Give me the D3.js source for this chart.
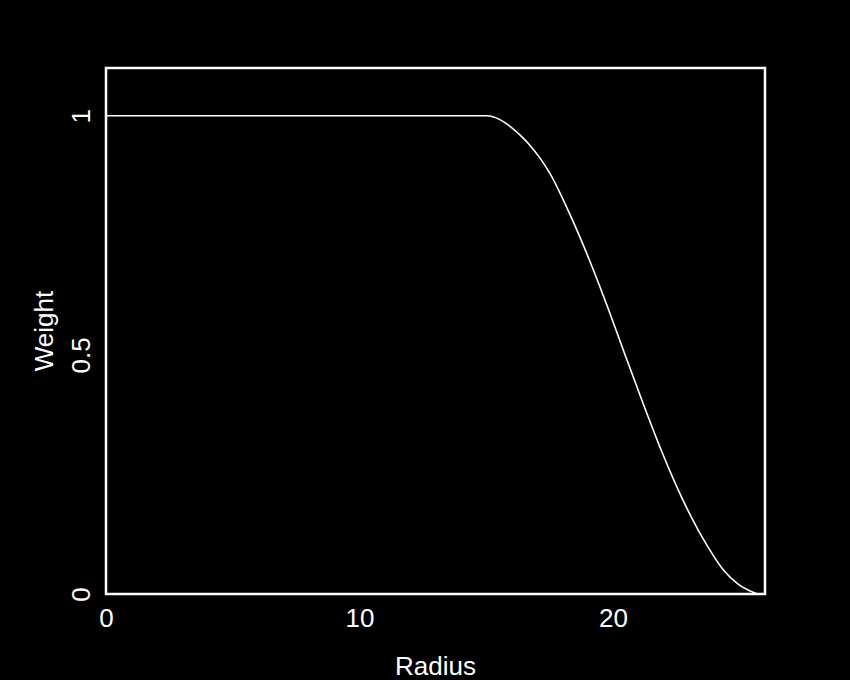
<!DOCTYPE html>
<html>
<head>
<meta charset="utf-8">
<script src="https://cdn.jsdelivr.net/npm/d3@7"></script>
<style>
  html, body { margin: 0; padding: 0; background: #000; }
  svg { display: block; }
  text { font-family: "Liberation Sans", Arial, sans-serif; fill: #fff; }
</style>
</head>
<body>
<div id="chart"></div>
<script>
// values
const radius = [0, 5, 10, 15.03, 15.54, 15.94, 16.33, 16.73, 17.13, 17.52, 18.25, 19.06, 19.79, 20.48, 21.18, 21.91, 22.73, 23.73, 24.36, 24.95, 25.7];
const weight = [1, 1, 1, 1, 0.992, 0.978, 0.96, 0.938, 0.911, 0.879, 0.8, 0.7, 0.6, 0.5, 0.4, 0.3, 0.2, 0.1, 0.05, 0.02, 0];
const xTicks = [0, 10, 20];
const yTicks = [0, 0.5, 1];
const xLabel = "Radius";
const yLabel = "Weight";

const width = 850;
const height = 680;
const margin = { top: 68, right: 85, bottom: 86, left: 106 };
const innerW = width - margin.left - margin.right;
const innerH = height - margin.top - margin.bottom;
const fontSize = "26px";

const data = radius.map((r, i) => ({ r, w: weight[i] }));

const xScale = d3.scaleLinear().domain([0, 26]).range([0, innerW]);
const yScale = d3.scaleLinear().domain([0, 1.1]).range([innerH, 0]);

const svg = d3.select("#chart")
    .append("svg")
    .attr("width", width)
    .attr("height", height);

svg.append("rect")
    .attr("width", width)
    .attr("height", height)
    .attr("fill", "#000");

const g = svg.append("g")
    .attr("transform", "translate(" + margin.left + "," + margin.top + ")");

// x axis labels (the original has no tick marks)
const xaxis = d3.axisBottom(xScale)
    .tickValues(xTicks)
    .tickSize(0)
    .tickFormat(d3.format("d"));

const gx = g.append("g")
    .attr("transform", "translate(0," + innerH + ")")
    .call(xaxis);
gx.select(".domain").remove();
gx.selectAll("text")
    .attr("fill", "#fff")
    .attr("y", 33)
    .attr("dy", 0)
    .style("font-size", fontSize)
    .style("font-family", "'Liberation Sans', Arial, sans-serif");

// y axis labels, rotated
const yaxis = d3.axisLeft(yScale)
    .tickValues(yTicks)
    .tickSize(0)
    .tickFormat(d => d === 0.5 ? "0.5" : d3.format("d")(d));

const gy = g.append("g").call(yaxis);
gy.select(".domain").remove();
gy.selectAll("text")
    .attr("fill", "#fff")
    .attr("x", 0)
    .attr("dy", 0)
    .attr("text-anchor", "middle")
    .attr("transform", "translate(-16,0) rotate(-90)")
    .style("font-size", fontSize)
    .style("font-family", "'Liberation Sans', Arial, sans-serif");

// axis titles
g.append("text")
    .attr("x", innerW / 2)
    .attr("y", innerH + 81)
    .attr("text-anchor", "middle")
    .style("font-size", fontSize)
    .text(xLabel);

g.append("text")
    .attr("transform", "translate(-53," + yScale(0.55) + ") rotate(-90)")
    .attr("text-anchor", "middle")
    .style("font-size", fontSize)
    .text(yLabel);

// the curve
const line = d3.line()
    .x(d => xScale(d.r))
    .y(d => yScale(d.w))
    .curve(d3.curveMonotoneX);

g.append("path")
    .datum(data)
    .attr("fill", "none")
    .attr("stroke", "#fff")
    .attr("stroke-width", 1.6)
    .attr("d", line);

// frame
g.append("rect")
    .attr("x", 0)
    .attr("y", 0)
    .attr("width", innerW)
    .attr("height", innerH)
    .attr("fill", "none")
    .attr("stroke", "#fff")
    .attr("stroke-width", 2.5);
</script>
</body>
</html>
